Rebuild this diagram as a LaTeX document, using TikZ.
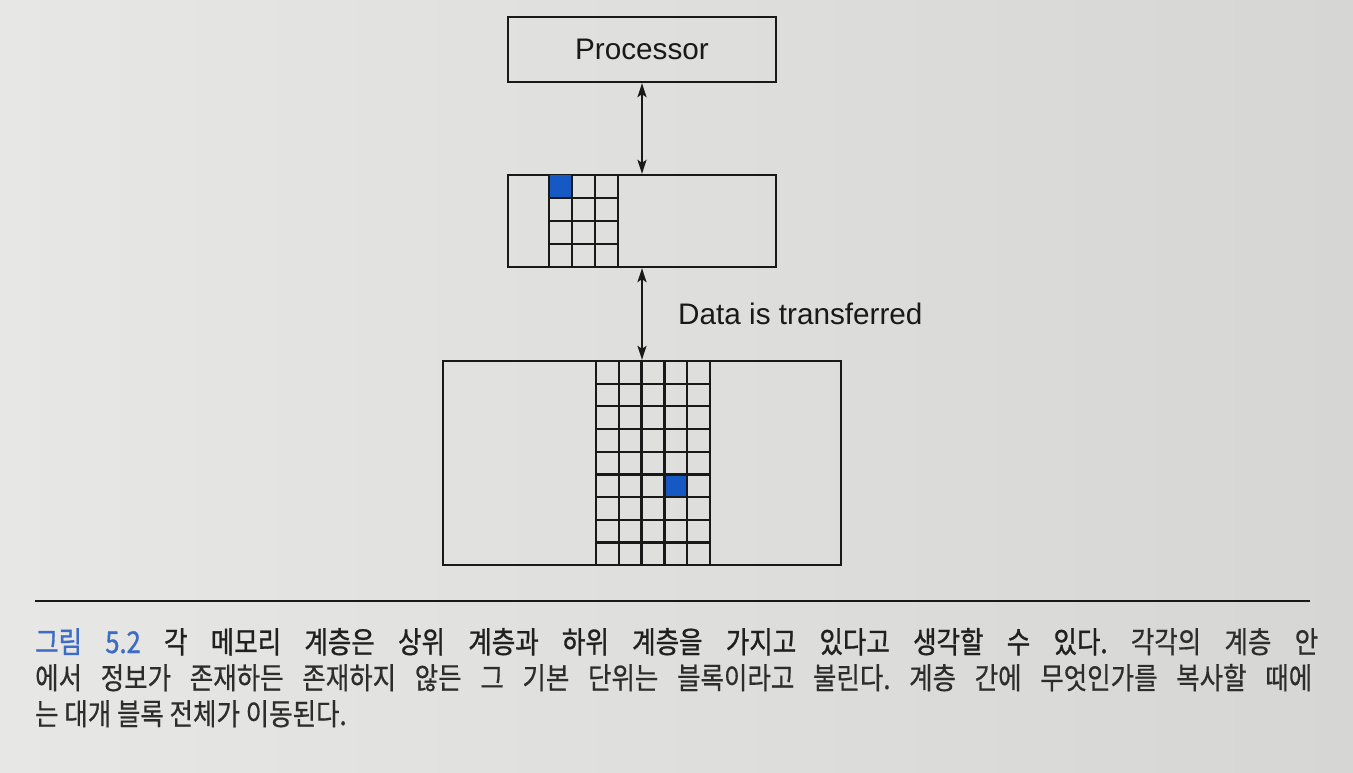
\documentclass[tikz,border=0pt]{standalone}
\usepackage{fontspec}
\setmainfont{Liberation Sans}
\newfontfamily\krfont[FakeStretch=0.85, FakeBold=0.5]{Noto Sans CJK KR}
\newfontfamily\krbold[FakeStretch=0.85, FakeBold=1.0]{Noto Sans CJK KR}
\usetikzlibrary{arrows.meta}
\definecolor{paper}{RGB}{231,231,229}
\definecolor{paperdark}{RGB}{214,214,212}
\definecolor{ink}{RGB}{25,25,25}
\definecolor{capink}{RGB}{45,45,45}
\definecolor{capdark}{RGB}{32,32,32}
\definecolor{blk}{RGB}{22,88,196}
\definecolor{capblue}{RGB}{62,108,196}
\begin{document}
\frenchspacing
\begin{tikzpicture}[x=1pt,y=-1pt,
  box/.style={draw=ink, line width=2.3pt, inner sep=0pt},
  gridline/.style={draw=ink, line width=2.3pt},
  link/.style={draw=ink, line width=2pt, {Stealth[length=14pt,width=9pt,inset=3pt]}-{Stealth[length=14pt,width=9pt,inset=3pt]}},
  diagfont/.style={font=\fontsize{29.7}{34}\selectfont, text=ink},
  capfont/.style={font=\krfont\fontsize{30}{36}\selectfont, text=capink, inner sep=0pt, anchor=base west}]
\useasboundingbox (0,0) rectangle (1353,772);
\shade[left color=paper, right color=paperdark] (0,0) rectangle (1353,772);

% boxes
\node[box, diagfont, minimum width=268pt, minimum height=65pt] (proc) at (642,49.5) {Processor};
\node[box, minimum width=268pt, minimum height=92pt] (mid) at (642,221) {};
\node[box, minimum width=398pt, minimum height=204pt] (bot) at (642,463) {};

% blue blocks
\fill[blk] (549,175) rectangle (572,198);
\fill[blk] (664.4,474.3) rectangle (687.2,497);

% middle grid (3 x 4)
\foreach \i in {0,...,3} \draw[gridline] (549+23*\i,175) -- (549+23*\i,267);
\foreach \j in {1,...,3} \draw[gridline] (549,175+23*\j) -- (618,175+23*\j);

% bottom grid (5 x 9)
\foreach \i in {0,...,5} \draw[gridline] (596+22.8*\i,361) -- (596+22.8*\i,565);
\foreach \j in {1,...,8} \draw[gridline] (596,361+22.67*\j) -- (710,361+22.67*\j);

% connectors
\draw[link] (proc.south) -- (mid.north);
\draw[link] (mid.south) -- (bot.north);

\node[diagfont, anchor=west, inner sep=0pt] (lbl) at (678,314) {Data is transferred};

% rule
\coordinate (rl) at (35,601);
\coordinate (rr) at (1310,601);
\draw[line width=2pt, ink] (rl) -- (rr);

% caption
\node[capfont] (cap1) at (35,653) {\makebox[1283pt][s]{{\krbold\color{capblue}그림 5.2} {\krbold\color{capdark}각 메모리 계층은 상위 계층과 하위 계층을 가지고 있다고 생각할 수 있다.} 각각의 계층 안}};
\node[capfont] (cap2) at (35,689) {\makebox[1277pt][s]{에서 정보가 존재하든 존재하지 않든 그 기본 단위는 블록이라고 불린다. 계층 간에 무엇인가를 복사할 때에}};
\node[capfont] (cap3) at (35,725) {는 대개 블록 전체가 이동된다.};
\end{tikzpicture}
\end{document}
